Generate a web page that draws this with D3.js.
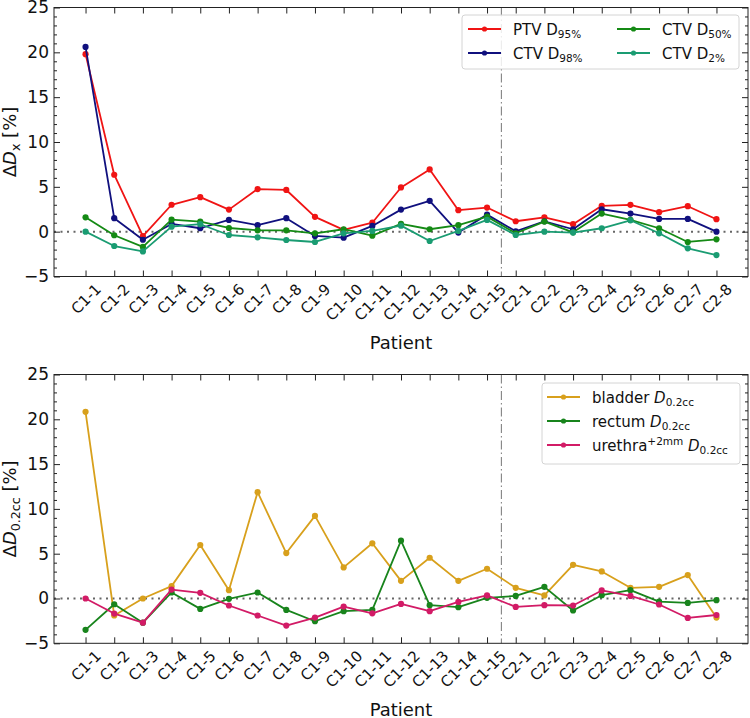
<!DOCTYPE html>
<html>
<head>
<meta charset="utf-8">
<script src="https://cdn.jsdelivr.net/npm/d3@7"></script>
<style>
  html, body { margin: 0; padding: 0; background: #fff; }
  svg { display: block; font-family: "DejaVu Sans", sans-serif; }
</style>
</head>
<body>
<svg id="chart" width="750" height="718"></svg>
<script>
// ---------------- data ----------------
const patients = ["C1-1","C1-2","C1-3","C1-4","C1-5","C1-6","C1-7","C1-8","C1-9","C1-10",
  "C1-11","C1-12","C1-13","C1-14","C1-15","C2-1","C2-2","C2-3","C2-4","C2-5","C2-6","C2-7","C2-8"];

const ptvD95  = [19.8, 6.35, -0.5, 3.0, 3.85, 2.46, 4.75, 4.65, 1.65, 0.2, 1.0, 4.93, 6.94, 2.4, 2.69, 1.16, 1.6, 0.83, 2.88, 2.99, 2.17, 2.84, 1.39];
const ctvD98  = [20.6, 1.5, -0.9, 0.86, 0.38, 1.31, 0.72, 1.5, -0.48, -0.67, 0.64, 2.46, 3.44, -0.1, 1.9, 0.04, 1.16, 0.27, 2.5, 2.02, 1.42, 1.42, 0.0];
const ctvD50  = [1.6, -0.4, -1.7, 1.34, 1.12, 0.41, 0.15, 0.15, -0.18, 0.27, -0.45, 0.86, 0.27, 0.72, 1.68, -0.18, 1.12, -0.07, 2.02, 1.31, 0.38, -1.15, -0.85];
const ctvD2   = [0.0, -1.6, -2.2, 0.56, 0.83, -0.37, -0.63, -0.93, -1.15, -0.18, 0.08, 0.67, -1.04, 0.08, 1.31, -0.37, 0.0, -0.1, 0.38, 1.27, -0.18, -1.86, -2.61];

const bladder = [20.83, -1.9, 0.0, 1.38, 5.97, 0.93, 11.87, 5.07, 9.22, 3.47, 6.16, 1.97, 4.55, 1.97, 3.32, 1.19, 0.34, 3.76, 3.02, 1.19, 1.3, 2.61, -2.13];
const rectum  = [-3.5, -0.64, -2.7, 0.67, -1.16, -0.04, 0.67, -1.27, -2.54, -1.42, -1.27, 6.45, -0.75, -0.97, 0.07, 0.29, 1.3, -1.34, 0.37, 0.93, -0.34, -0.49, -0.19];
const urethra = [0.0, -1.68, -2.7, 1.0, 0.63, -0.78, -1.9, -3.02, -2.13, -0.9, -1.65, -0.6, -1.42, -0.38, 0.34, -0.94, -0.75, -0.78, 0.9, 0.29, -0.67, -2.17, -1.84];

const yTicks = [-5, 0, 5, 10, 15, 20, 25];
const yMinorTicks = d3.range(-5, 26, 1).filter(v => v % 5 !== 0);
const xLabel = "Patient";

// --------------- drawing ---------------
const svg = d3.select("#chart");
const left = 54, right = 748;
const x = d3.scalePoint().domain(patients).range([left, right]).padding(1.1);

const panels = [
  {
    top: 7.5, bottom: 276.5,
    yLabel: [{t: "Δ"}, {t: "D", italic: true}, {t: "x", sub: true}, {t: " [%]"}],
    series: [
      {name: [{t: "PTV D"}, {t: "95%", sub: true}], values: ptvD95, color: "#f01414"},
      {name: [{t: "CTV D"}, {t: "98%", sub: true}], values: ctvD98, color: "#10107e"},
      {name: [{t: "CTV D"}, {t: "50%", sub: true}], values: ctvD50, color: "#158a15"},
      {name: [{t: "CTV D"}, {t: "2%", sub: true}], values: ctvD2, color: "#1a9c72"}
    ],
    legend: {x: 462, y: 15, w: 277, h: 54, cols: [[0, 1], [2, 3]], colX: [468, 617], textX: [513, 662], rowY: [29, 53]}
  },
  {
    top: 374.5, bottom: 643.3,
    yLabel: [{t: "Δ"}, {t: "D", italic: true}, {t: "0.2cc", sub: true}, {t: " [%]"}],
    series: [
      {name: [{t: "bladder "}, {t: "D", italic: true}, {t: "0.2cc", sub: true}], values: bladder, color: "#d8a01c"},
      {name: [{t: "rectum "}, {t: "D", italic: true}, {t: "0.2cc", sub: true}], values: rectum, color: "#18841c"},
      {name: [{t: "urethra"}, {t: "+2mm", sup: true}, {t: " "}, {t: "D", italic: true}, {t: "0.2cc", sub: true}], values: urethra, color: "#d21b66"}
    ],
    legend: {x: 542, y: 383, w: 198, h: 81, cols: [[0, 1, 2]], colX: [547], textX: [592], rowY: [397, 421, 445]}
  }
];

function richText(sel, parts, fs) {
  const subFs = fs * 0.7;
  let shift = 0;
  parts.forEach(p => {
    const ts = sel.append("tspan").text(p.t);
    let target = 0;
    if (p.sub) target = fs * 0.25;
    if (p.sup) target = -fs * 0.38;
    ts.attr("dy", target - shift);
    shift = target;
    ts.attr("font-size", (p.sub || p.sup) ? subFs : fs);
    if (p.italic) ts.attr("font-style", "italic");
  });
}

panels.forEach(P => {
  const y = d3.scaleLinear().domain([-5, 25]).range([P.bottom, P.top]);
  const g = svg.append("g");

  // zero reference line
  g.append("line")
    .attr("x1", left).attr("x2", right)
    .attr("y1", y(0)).attr("y2", y(0))
    .attr("stroke", "#666").attr("stroke-width", 2)
    .attr("stroke-dasharray", "2,4.5");

  // vertical divider between cohort 1 and 2
  const xDiv = (x("C1-15") + x("C2-1")) / 2;
  g.append("line")
    .attr("x1", xDiv).attr("x2", xDiv)
    .attr("y1", P.top).attr("y2", P.bottom)
    .attr("stroke", "#777").attr("stroke-width", 1)
    .attr("stroke-dasharray", "9,3,1.5,3");

  // series
  const line = d3.line().x((d, i) => x(patients[i])).y(d => y(d));
  P.series.forEach(s => {
    g.append("path").datum(s.values)
      .attr("d", line).attr("fill", "none")
      .attr("stroke", s.color).attr("stroke-width", 1.8)
      .attr("stroke-linejoin", "round");
    g.selectAll(null).data(s.values).enter().append("circle")
      .attr("cx", (d, i) => x(patients[i])).attr("cy", d => y(d))
      .attr("r", 3.1).attr("fill", s.color);
  });

  // axes (inward ticks)
  const axL = g.append("g").attr("transform", `translate(${left},0)`)
    .call(d3.axisLeft(y).tickValues(yTicks).tickSize(-6).tickPadding(5));
  axL.selectAll("text").attr("font-size", 17).attr("fill", "#111").attr("font-family", "DejaVu Sans");
  g.append("g").attr("transform", `translate(${left},0)`)
    .call(d3.axisLeft(y).tickValues(yMinorTicks).tickSize(-3).tickFormat(""));
  g.append("g").attr("transform", `translate(${right},0)`)
    .call(d3.axisRight(y).tickValues(yTicks).tickSize(-6).tickFormat(""));
  g.append("g").attr("transform", `translate(${right},0)`)
    .call(d3.axisRight(y).tickValues(yMinorTicks).tickSize(-3).tickFormat(""));
  g.append("g").attr("transform", `translate(0,${P.top})`)
    .call(d3.axisTop(x).tickSize(-6).tickFormat(""));
  const axB = g.append("g").attr("transform", `translate(0,${P.bottom})`)
    .call(d3.axisBottom(x).tickSize(-6));
  g.selectAll(".domain").remove();
  g.selectAll(".tick line").attr("stroke", "#222").attr("stroke-width", 1);

  const fsX = 15;
  axB.selectAll("text")
    .attr("font-size", fsX).attr("font-family", "DejaVu Sans").attr("fill", "#111")
    .each(function() {
      const t = d3.select(this);
      const w = this.getComputedTextLength();
      const bh = (w + 0.75 * fsX) * Math.SQRT1_2;
      const cy = 6 + bh / 2;
      t.attr("text-anchor", "middle").attr("x", 0).attr("y", cy).attr("dy", "0.35em")
        .attr("transform", `rotate(-45,0,${cy})`);
    });

  // frame
  g.append("rect")
    .attr("x", left).attr("y", P.top)
    .attr("width", right - left).attr("height", P.bottom - P.top)
    .attr("fill", "none").attr("stroke", "#222").attr("stroke-width", 1);

  // axis labels
  g.append("text")
    .attr("x", (left + right) / 2).attr("y", P.bottom + 72.5)
    .attr("text-anchor", "middle").attr("font-size", 18).attr("fill", "#111")
    .text(xLabel);
  const yl = g.append("text")
    .attr("transform", `translate(15.5,${(P.top + P.bottom) / 2}) rotate(-90)`)
    .attr("text-anchor", "middle").attr("font-size", 18).attr("fill", "#111");
  richText(yl, P.yLabel, 18);

  // legend
  const L = P.legend;
  const lg = g.append("g");
  lg.append("rect").attr("x", L.x).attr("y", L.y).attr("width", L.w).attr("height", L.h)
    .attr("rx", 3).attr("fill", "#fff").attr("fill-opacity", 0.85)
    .attr("stroke", "#d4d4d4").attr("stroke-width", 1);
  L.cols.forEach((col, ci) => {
    col.forEach((si, ri) => {
      const s = P.series[si];
      const cy = L.rowY[ri];
      const x0 = L.colX[ci];
      lg.append("line").attr("x1", x0).attr("x2", x0 + 33).attr("y1", cy).attr("y2", cy)
        .attr("stroke", s.color).attr("stroke-width", 1.8);
      lg.append("circle").attr("cx", x0 + 16.5).attr("cy", cy).attr("r", 2.6).attr("fill", s.color);
      const tx = lg.append("text").attr("x", L.textX[ci]).attr("y", cy + 5.5)
        .attr("font-size", 15).attr("fill", "#111");
      richText(tx, s.name, 15);
    });
  });
});
</script>
</body>
</html>
